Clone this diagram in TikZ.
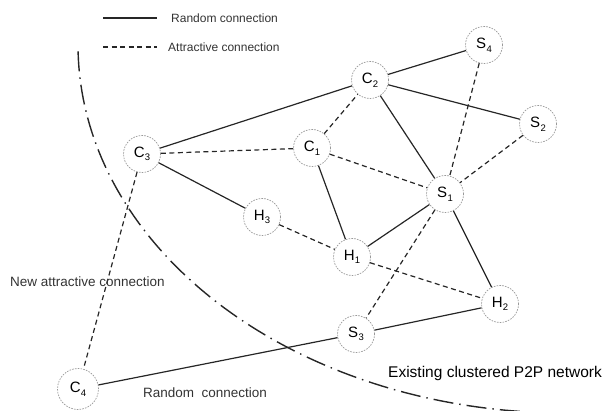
\documentclass[tikz,border=0pt]{standalone}
\usepackage{fontspec}
\setmainfont{Liberation Sans}
\newcommand{\peer}[2]{#1\kern0.3pt\raisebox{-0.45ex}{\fontsize{9.5}{9.5}\selectfont #2}}
\begin{document}
\begin{tikzpicture}[x=1pt,y=-1pt,
  peernode/.style={circle, draw=gray!80, line width=0.7pt, dash pattern=on 1.6pt off 1.2pt,
    minimum size=37pt, inner sep=0pt, font=\fontsize{15}{15}\selectfont, fill=white},
  randomlink/.style={line width=1.2pt, draw=black!85},
  attractlink/.style={line width=1.2pt, draw=black!85, dash pattern=on 5pt off 3.5pt},
  boundary/.style={line width=1.4pt, draw=black!85, dash pattern=on 20pt off 6pt on 1.5pt off 6pt},
  lbl/.style={inner sep=0pt, anchor=west, text=black!80}]
\useasboundingbox (0,0) rectangle (605,411);

% boundary of the existing clustered network
\draw[boundary] plot[domain=179:95, samples=80] ({565+487*cos(\x)}, {45+368*sin(\x)});

% legend
\coordinate (lr1) at (103,18);
\coordinate (lr2) at (157,18);
\coordinate (la1) at (103,47);
\coordinate (la2) at (157,47);
\draw[randomlink] (lr1) -- (lr2);
\draw[attractlink] (la1) -- (la2);
\node[lbl, font=\fontsize{12}{12}\selectfont] (legr) at (171,18) {Random connection};
\node[lbl, font=\fontsize{12}{12}\selectfont] (lega) at (168,47) {Attractive connection};

% peers
\node[peernode] (S4) at (484,45) {\peer{S}{4}};
\node[peernode] (C2) at (370,80) {\peer{C}{2}};
\node[peernode] (S2) at (538,124) {\peer{S}{2}};
\node[peernode] (C1) at (312,148) {\peer{C}{1}};
\node[peernode] (C3) at (142,154) {\peer{C}{3}};
\node[peernode] (S1) at (445,194) {\peer{S}{1}};
\node[peernode] (H3) at (262,217) {\peer{H}{3}};
\node[peernode] (H1) at (352,257) {\peer{H}{1}};
\node[peernode] (H2) at (500,304) {\peer{H}{2}};
\node[peernode] (S3) at (356,334) {\peer{S}{3}};
\node[peernode, minimum size=41pt] (C4) at (78,389) {\peer{C}{4}};

% random connections
\draw[randomlink] (C3) -- (C2);
\draw[randomlink] (C2) -- (S4);
\draw[randomlink] (C2) -- (S2);
\draw[randomlink] (C2) -- (S1);
\draw[randomlink] (C3) -- (H3);
\draw[randomlink] (C1) -- (H1);
\draw[randomlink] (H1) -- (S1);
\draw[randomlink] (S1) -- (H2);
\draw[randomlink] (S3) -- (H2);
\draw[randomlink] (C4) -- (S3);

% attractive connections
\draw[attractlink] (C3) -- (C1);
\draw[attractlink] (C1) -- (C2);
\draw[attractlink] (C1) -- (S1);
\draw[attractlink] (S4) -- (S1);
\draw[attractlink] (S2) -- (S1);
\draw[attractlink] (H3) -- (H1);
\draw[attractlink] (H1) -- (H2);
\draw[attractlink] (S1) -- (S3);
\draw[attractlink] (C3) -- (C4);

% labels
\node[lbl, font=\fontsize{13.5}{13.5}\selectfont] (newlbl) at (10,282) {New attractive connection};
\node[lbl, font=\fontsize{13.5}{13.5}\selectfont] (randlbl) at (143,393) {Random\ \ connection};
\node[lbl, font=\fontsize{15.5}{15.5}\selectfont, text=black] (netlbl) at (388,373) {Existing clustered P2P network};
\end{tikzpicture}
\end{document}
